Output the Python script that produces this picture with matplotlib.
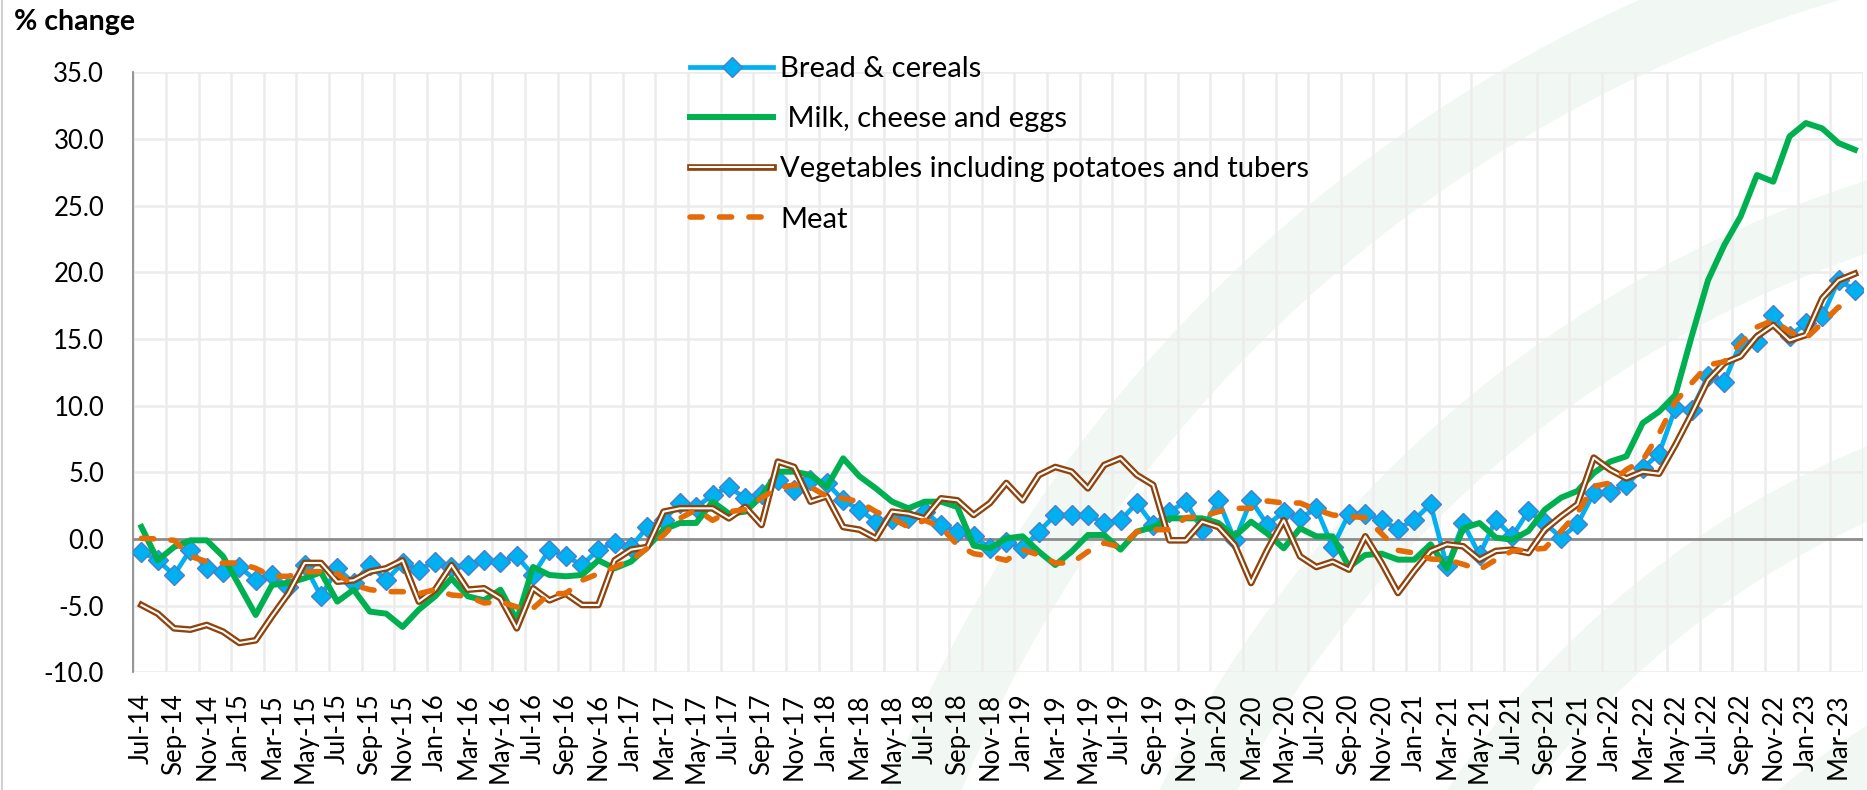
import numpy as np
import pandas as pd
import matplotlib
matplotlib.use("Agg")
import matplotlib.pyplot as plt
import matplotlib.patheffects as pe
from matplotlib.patches import Arc
from matplotlib.lines import Line2D
from matplotlib.ticker import FormatStrFormatter

plt.rcParams['font.family'] = ['Lato', 'DejaVu Sans']

# monthly categories Jul-14 .. Apr-23
dates = pd.date_range("2014-07-01", "2023-04-01", freq="MS")
categories = [d.strftime("%b-%y") for d in dates]

# % change
bread = [-0.95, -1.6, -2.7, -0.8, -2.2, -2.45, -2.1, -3.1, -2.7, -3.6, -1.95, -4.3, -2.2,
         -3.3, -1.95, -3.1, -1.8, -2.3, -1.7, -2.1, -1.95, -1.6, -1.7, -1.3, -2.7, -0.8,
         -1.3, -1.95, -0.8, -0.3, -0.6, 0.9, 1.4, 2.7, 2.4, 3.3, 3.9, 3.05, 3.4,
         4.4, 3.7, 4.4, 4.2, 2.9, 2.2, 1.3, 1.5, 1.55, 2.05, 1.05, 0.55,
         0.2, -0.7, -0.2, -0.7, 0.55, 1.8, 1.8, 1.8, 1.2, 1.4, 2.7, 1.05, 2.05,
         2.8, 0.7, 2.9, -0.1, 2.9, 1.05, 2.05, 1.55, 2.3, -0.6, 1.9, 1.9, 1.4,
         0.75, 1.45, 2.6, -2.05, 1.2, -1.2, 1.45, 0.2, 2.1, 1.2, 0.1, 1.1, 3.45,
         3.5, 4.05, 5.3, 6.4, 9.8, 9.7, 12.2, 11.8, 14.7, 14.8, 16.8, 15.2, 16.2, 16.7, 19.4, 18.7]

milk = [0.9, -1.6, -0.6, -0.1, -0.1, -1.3, -3.5, -5.7, -3.45, -3.3, -2.95, -2.5, -4.7,
        -3.8, -5.45, -5.6, -6.6, -5.3, -4.3, -2.95, -4.3, -4.6, -3.8, -6.1, -2.1, -2.7,
        -2.8, -2.7, -1.6, -2.2, -1.7, -0.6, 0.7, 1.2, 1.2, 2.8, 1.9, 2.05, 3.2,
        5.05, 5.05, 4.8, 3.9, 6.05, 4.7, 3.8, 2.8, 2.3, 2.8, 2.8, 2.4,
        -0.5, -0.7, 0.05, 0.2, -0.95, -1.95, -0.95, 0.3, 0.3, -0.8, 0.55, 0.9, 1.55,
        1.55, 1.55, 1.2, 0.2, 1.3, 0.4, -0.7, 0.8, 0.2, 0.2, -2.1, -1.2, -1.1,
        -1.55, -1.55, -0.4, -2.2, 0.8, 1.2, 0.1, -0.05, 0.6, 2.2, 3.1, 3.6, 4.95,
        5.8, 6.2, 8.7, 9.55, 10.8, 15.2, 19.4, 22.05, 24.2, 27.3, 26.8, 30.2, 31.2, 30.8, 29.7, 29.2]

vegetables = [-4.95, -5.6, -6.7, -6.8, -6.45, -6.95, -7.8, -7.6, -5.8, -4.1, -1.8, -1.8, -3.2,
              -3.1, -2.45, -2.2, -1.6, -4.7, -3.8, -1.95, -3.8, -3.7, -4.45, -6.7, -3.7, -4.6,
              -4.1, -4.95, -4.95, -1.6, -0.8, -0.6, 2.05, 2.3, 2.3, 2.3, 1.55, 2.4, 1.05,
              5.8, 5.4, 2.8, 3.2, 0.9, 0.7, 0.05, 2.05, 1.9, 1.55, 3.05, 2.9,
              1.8, 2.7, 4.2, 2.9, 4.8, 5.4, 5.05, 3.8, 5.55, 6.05, 4.8, 4.05, -0.1,
              -0.1, 1.3, 0.9, -0.45, -3.3, -0.8, 1.4, -1.3, -2.1, -1.7, -2.3, 0.2, -1.8,
              -4.05, -2.4, -0.9, -0.4, -0.55, -1.55, -0.9, -0.8, -1.05, 0.7, 1.7, 2.6, 6.1,
              5.2, 4.55, 5.05, 4.9, 7.05, 9.4, 11.9, 13.2, 13.7, 15.2, 16.05, 14.9, 15.3, 18.05, 19.4, 19.9]

meat = [0.05, 0.0, -0.1, -1.3, -1.7, -1.8, -1.8, -2.2, -2.8, -2.8, -2.45, -2.45, -2.6,
        -3.45, -3.8, -3.95, -3.95, -4.1, -3.8, -4.2, -4.3, -4.8, -4.7, -5.1, -5.2, -4.1,
        -4.1, -3.1, -2.6, -2.1, -1.6, -0.7, 0.3, 1.55, 2.2, 1.4, 2.05, 2.2, 3.1,
        3.8, 4.05, 3.9, 3.2, 3.05, 2.8, 2.05, 1.55, 0.9, 1.4, 0.9, -0.45,
        -1.1, -1.3, -1.6, -0.8, -1.2, -1.8, -1.8, -0.95, -0.3, -0.6, 0.55, 0.7, 0.7,
        1.6, 1.7, 2.05, 2.3, 2.3, 2.85, 2.7, 2.7, 2.2, 1.8, 1.7, 1.6, 0.4,
        -0.85, -1.05, -1.5, -1.55, -1.9, -2.3, -1.55, -0.9, -0.8, -0.7, 0.6, 1.95, 3.95,
        4.2, 5.2, 5.9, 7.9, 10.3, 11.7, 13.05, 13.3, 14.7, 15.9, 16.4, 15.55, 15.05, 16.2, 17.4, 17.2]

W, H = 1867, 790
fig = plt.figure(figsize=(W / 100, H / 100), dpi=100)

# faint green swooshes in the background
bg = fig.add_axes([0, 0, 1, 1], zorder=0)
bg.set_xlim(0, W)
bg.set_ylim(0, H)
bg.axis("off")
for r in [1400, 1150, 900, 650]:
    bg.add_patch(Arc((2224, -520), 2 * r, 2 * r, theta1=90, theta2=180,
                     color="#F1F8F3", lw=50))
fig.add_artist(Line2D([0.001, 0.001], [0, 1], color="#D0D0D0", lw=1.5,
                      transform=fig.transFigure))

# =========================
# plot area
# =========================
left, right, top, bottom = 133.3, 1863, 72.4, 672.3
ax = fig.add_axes([left / W, 1 - bottom / H, (right - left) / W, (bottom - top) / H], zorder=1)
ax.set_facecolor("none")

x = np.arange(len(categories))
ax.set_xlim(-0.5, len(categories) - 0.5)
ax.set_ylim(-10, 35)

grid_c = "#ECECEC"
ax.set_yticks(np.arange(-10, 36, 5))
ax.yaxis.set_major_formatter(FormatStrFormatter("%.1f"))
ax.yaxis.grid(True, color=grid_c, lw=1.8)
for k in range(0, len(categories) + 1, 2):
    ax.axvline(k - 0.5, color=grid_c, lw=1.8, zorder=0.5)
ax.set_axisbelow(True)

ax.set_xticks(x[::2])
ax.set_xticklabels(categories[::2], rotation=90)
ax.tick_params(axis="x", length=0, pad=15, labelsize=18.5)
ax.tick_params(axis="y", length=0, pad=21, labelsize=18.5)

for s in ["top", "right", "bottom"]:
    ax.spines[s].set_visible(False)
ax.spines["left"].set_color("#8C8C8C")
ax.spines["left"].set_linewidth(1.3)
ax.axhline(0, color="#8C8C8C", lw=2.0, zorder=1.5)

ax.plot(x, bread, color="#00B0F0", lw=3.4, marker="D", ms=10, mfc="#00B0F0",
        mec="#4A7EC8", mew=1.0, solid_joinstyle="round", label="Bread & cereals", zorder=3)
ax.plot(x, milk, color="#00B050", lw=4.3, solid_joinstyle="round",
        label=" Milk, cheese and eggs", zorder=4)
ax.plot(x, vegetables, color="white", lw=1.5, solid_joinstyle="round",
        label="Vegetables including potatoes and tubers", zorder=5,
        path_effects=[pe.Stroke(linewidth=4.8, foreground="#8E430C"), pe.Normal()])
ax.plot(x, meat, color="#E36C09", lw=4.0, ls=(0, (2.2, 3.1)), dash_capstyle="round",
        label="Meat", zorder=6)

ax.legend(loc="upper left", bbox_to_anchor=(690 / W, 1 - 56 / H),
          bbox_transform=fig.transFigure, frameon=False, fontsize=21,
          handlelength=2.85, handletextpad=0.24, labelspacing=0.83,
          borderpad=0, borderaxespad=0)

fig.text(14 / W, 1 - 22 / H, "% change", ha="left", va="center",
         fontsize=20.5, fontweight="bold")

fig.savefig("out.png", dpi=100)
